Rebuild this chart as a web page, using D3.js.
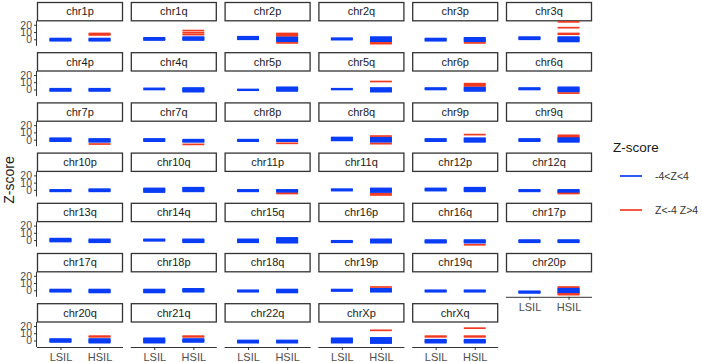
<!DOCTYPE html>
<html>
<head>
<meta charset="utf-8">
<script src="https://cdn.jsdelivr.net/npm/d3@7"></script>
<style>
  body { margin: 0; background: #fff; }
  svg { font-family: "Liberation Sans", Arial, sans-serif; display: block; }
</style>
</head>
<body>
<svg id="chart" width="702" height="362"></svg>
<script>
// facet names, in facet_wrap order (6 columns)
const panels = [
  'chr1p', 'chr1q', 'chr2p', 'chr2q', 'chr3p', 'chr3q',
  'chr4p', 'chr4q', 'chr5p', 'chr5q', 'chr6p', 'chr6q',
  'chr7p', 'chr7q', 'chr8p', 'chr8q', 'chr9p', 'chr9q',
  'chr10p', 'chr10q', 'chr11p', 'chr11q', 'chr12p', 'chr12q',
  'chr13q', 'chr14q', 'chr15q', 'chr16p', 'chr16q', 'chr17p',
  'chr17q', 'chr18p', 'chr18q', 'chr19p', 'chr19q', 'chr20p',
  'chr20q', 'chr21q', 'chr22q', 'chrXp', 'chrXq'
]

const groups = ['LSIL', 'HSIL']

// Z-scores per sample, LSIL group
const lsil = [
  [-2, -1, 0, 1], [-1, 0, 1, 2], [0, 1, 2, 3, 3.5], [-0.5, 0.5, 1.5], [-2, -1, 0, 1], [0, 1, 2, 3],
  [-2, -1, 0, 1], [0, 1.5], [-1, 0], [0, 1], [0, 1, 2], [0, 1, 2],
  [-2, -1, 0, 1, 2], [-2, -1, 0, 1], [-2, -1, 0], [-1, 0, 1, 2, 3], [-2, -1, 0, 1], [-2, -1, 0, 1],
  [-2, -1, 0], [-3, -2, -1, 0, 1, 2], [-2, -1, 0], [-1, 0, 1], [-1, 0, 1, 2], [-2, -1, 0],
  [-2, -1, 0, 1, 2], [-1, 0, 1], [-3, -2, -1, 0, 1], [-3, -2, -1], [-3.5, -3, -2, -1, 0], [-3, -2, -1, 0],
  [-2, -1, 0, 1], [-3, -2, -1, 0, 1], [-2, -1, 0], [-1, 0, 1], [-2, -1, 0], [-3.5, -3, -2, -1.5],
  [-2, -1, 0, 1, 2], [-3, -2, -1, 0, 1, 2, 3], [-3, -2, -1, 0], [-3, -2, -1, 0, 1, 2, 3], [-3, -2, -1, 0, 1, 5, 6]
]

// Z-scores per sample, HSIL group
const hsil = [
  [-2, -1, 0, 1, 6, 7, 8], [-1, 0, 1, 2, 3, 6.5, 9, 12], [-3, -2, -1, 0, 1, 2, 3, 5, 6, 7, 8, -5],
  [-3, -2, -1, 0, 1, 2, 3, -5, -6], [-3, -2, -1, 0, 1, 2, -5], [-3, -2, -1, 0, 1, 2, 3, 7, 8, 16, 24],
  [-2, -1, 0, 1], [-3, -2, -1, 0, 1, 2], [-2, -1, 0, 1, 2, 3],
  [-3, -2, -1, 0, 1, 2, 11], [-2, -1, 0, 1, 2, 3, 5, 6.5, 8], [-3, -2, -1, 0, 1, 2, 3, -5],
  [-3, -2, -1, 0, 1, -6], [-3, -2, -1, 0, -6.5], [-2, -1, 0, -5],
  [-3, -2, -1, 0, 1, 2, 3, 5, -5.5], [-3, -2, -1, 0, 1, 2, 7], [-3, -2, -1, 0, 1, 2, 3, 4.5, 6],
  [-2, -1, 0, 1], [-2, -1, 0, 1, 2, 3], [-3, -2, -1, 0, -5],
  [-3, -2, -1, 0, 1, 2, -5.5, -7], [-2, -1, 0, 1, 2, 3], [-3.5, -3, -2, -1, 0, -5],
  [-3, -2, -1, 0, 1], [-3, -2, -1, 0, 1], [-3.5, -3, -2, -1, 0, 1, 2, 3],
  [-3.5, -3, -2, -1, 0, 1], [-3.5, -3, -2, -1, 0, -6.5], [-3, -2, -1, 0],
  [-3, -2, -1, 0, 1], [-2, -1, 0, 1, 2], [-3, -2, -1, 0, 1],
  [-2, -1, 0, 1, 2, 4.5], [-2, -1, 0], [-3.5, -3, -2, -1, 0, 1, 2, 3, 4.5, -5, -6],
  [-3, -2, -1, 0, 1, 2, 5, 6], [-2, -1, 0, 1, 2, 5, 6], [-3, -2, -1, 0],
  [-3.5, -3, -2, -1, 0, 1, 2, 3, 3.5, 14], [-3, -2, -1, 0, 1, 5, 6, 17]
]

const yTicks = [0, 10, 20]
const legendLabels = ['-4<Z<4', 'Z<-4 Z>4']
const legendColors = ['#0a3df5', '#f23a20']

const nCol = 6
const colX0 = 37
const colStep = 93.8
const panelW = 86
const rowY0 = 2
const rowStep = 50.2
const stripH = 18.3
const panelH = 25

const svg = d3.select('#chart')

const x = d3.scalePoint()
  .domain(groups)
  .range([0, panelW])
  .padding(0.6)

const y = d3.scaleLinear()
  .domain([-9, 25.5])
  .range([panelH, 0])

const halfW = x.step() * 0.28
const colorOf = z => Math.abs(z) > 4 ? legendColors[1] : legendColors[0]

panels.forEach((name, i) => {
  const col = i % nCol
  const row = Math.floor(i / nCol)
  const px = colX0 + col * colStep
  const py = rowY0 + row * rowStep

  const g = svg.append('g').attr('transform', `translate(${px},${py})`)

  // strip
  g.append('rect')
    .attr('x', 0.5)
    .attr('y', 0.5)
    .attr('width', panelW - 1)
    .attr('height', stripH)
    .attr('fill', '#fff')
    .attr('stroke', '#333')
    .attr('stroke-width', 1.3)

  g.append('text')
    .attr('x', panelW / 2)
    .attr('y', stripH / 2 + 4.2)
    .attr('text-anchor', 'middle')
    .attr('font-size', 11)
    .attr('fill', '#1a1a1a')
    .text(name)

  const p = g.append('g').attr('transform', `translate(0,${stripH + 0.5})`)

  // segments
  const marks = []
  lsil[i].forEach(z => marks.push({ g: 'LSIL', z }))
  hsil[i].forEach(z => marks.push({ g: 'HSIL', z }))

  p.selectAll('line.seg')
    .data(marks)
    .join('line')
    .attr('class', 'seg')
    .attr('x1', d => x(d.g) - halfW)
    .attr('x2', d => x(d.g) + halfW)
    .attr('y1', d => y(d.z))
    .attr('y2', d => y(d.z))
    .attr('stroke', d => colorOf(d.z))
    .attr('stroke-width', 1.7)

  // y axis on first column only
  if (col === 0) {
    const ya = p.append('g')
      .call(d3.axisLeft(y).tickValues(yTicks).tickSize(3).tickPadding(2))
    ya.select('.domain').attr('stroke', '#333').attr('d', `M-0.5,0V${panelH}`)
    ya.selectAll('.tick line').attr('stroke', '#333')
    ya.selectAll('.tick text')
      .attr('font-size', 10.5)
      .attr('fill', '#4d4d4d')
      .attr('font-family', '"Liberation Sans", Arial, sans-serif')
  }

  // x axis on bottom panel of each column
  const isBottom = (i + nCol >= panels.length)
  if (isBottom) {
    const xa = p.append('g')
      .attr('transform', `translate(0,${panelH})`)
      .call(d3.axisBottom(x).tickSize(3).tickPadding(3))
    xa.select('.domain').attr('stroke', '#333').attr('d', `M0,0.5H${panelW}`)
    xa.selectAll('.tick line').attr('stroke', '#333')
    xa.selectAll('.tick text')
      .attr('font-size', 11)
      .attr('fill', '#4d4d4d')
      .attr('font-family', '"Liberation Sans", Arial, sans-serif')
  }
})

// y title
svg.append('text')
  .attr('transform', 'translate(14,180) rotate(-90)')
  .attr('text-anchor', 'middle')
  .attr('font-size', 14)
  .attr('fill', '#1a1a1a')
  .text('Z-score')

// legend
const lg = svg.append('g').attr('transform', 'translate(613,0)')
lg.append('text')
  .attr('x', 0)
  .attr('y', 152)
  .attr('font-size', 13.5)
  .attr('fill', '#1a1a1a')
  .text('Z-score')

legendLabels.forEach((lab, k) => {
  const ly = 176 + k * 34
  lg.append('line')
    .attr('x1', 7)
    .attr('x2', 29)
    .attr('y1', ly)
    .attr('y2', ly)
    .attr('stroke', legendColors[k])
    .attr('stroke-width', 1.7)
  lg.append('text')
    .attr('x', 42)
    .attr('y', ly + 3.5)
    .attr('font-size', 10.5)
    .attr('fill', '#333')
    .text(lab)
})
</script>
</body>
</html>
